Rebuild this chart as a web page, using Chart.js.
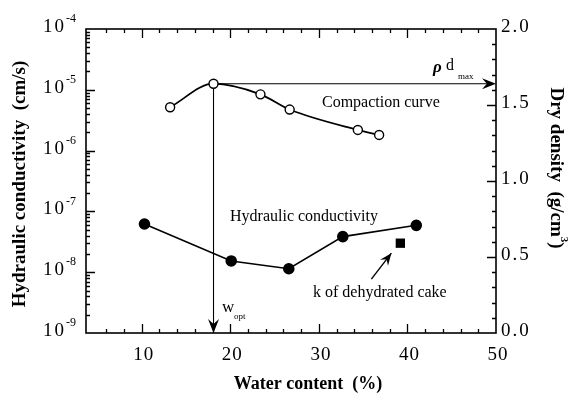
<!DOCTYPE html>
<html>
<head>
<meta charset="utf-8">
<script src="https://cdn.jsdelivr.net/npm/chart.js@4.4.1/dist/chart.umd.min.js"></script>
<style>
  html, body { margin: 0; padding: 0; background: #fff; }
  #wrap { width: 572px; height: 393px; }
</style>
</head>
<body>
<div id="wrap"><canvas id="chart" width="572" height="393"></canvas></div>
<script>
// Compaction test: dry density (g/cm3) vs water content (%)
const compactionWater = [13.2, 18.1, 23.4, 26.7, 34.4, 36.8];
const dryDensity = [1.485, 1.64, 1.57, 1.47, 1.336, 1.303];

// Permeability test: hydraulic conductivity (cm/s) vs water content (%)
const permWater = [10.3, 20.1, 26.6, 32.7, 41.0];
const conductivity = [6.2e-8, 1.53e-8, 1.14e-8, 3.85e-8, 5.9e-8];

// k of dehydrated cake
const cakeWater = [39.2];
const cakeConductivity = [3.0e-8];

// axis labels
const xTickValues = [10, 20, 30, 40, 50];
const leftExponents = [-9, -8, -7, -6, -5, -4];
const rightTickValues = [0, 0.5, 1.0, 1.5, 2.0];

const FONT = '"Liberation Serif", "Times New Roman", serif';

function toPoints(xs, ys) {
    return xs.map((x, i) => ({ x: x, y: ys[i] }));
}

function arrowHead(ctx, tipX, tipY, angle, len, half) {
    ctx.save();
    ctx.translate(tipX, tipY);
    ctx.rotate(angle);
    ctx.beginPath();
    ctx.moveTo(0, 0);
    ctx.lineTo(-len, -half);
    ctx.lineTo(-len * 0.65, 0);
    ctx.lineTo(-len, half);
    ctx.closePath();
    ctx.fill();
    ctx.restore();
}

function text(ctx, str, x, y, font, align) {
    ctx.font = font;
    ctx.textAlign = align || 'left';
    ctx.textBaseline = 'middle';
    ctx.fillText(str, x, y);
}

// optimum water content / max dry density, taken from the compaction data
const peak = dryDensity.indexOf(Math.max(...dryDensity));
const wOpt = compactionWater[peak];
const rhoMax = dryDensity[peak];

const framePlugin = {
    id: 'frameAxes',
    beforeDatasetsDraw(chart) {
        const { ctx, chartArea: a, scales } = chart;
        const px = scales.x.getPixelForValue(wOpt);
        const py = scales.yRight.getPixelForValue(rhoMax);
        ctx.save();
        ctx.strokeStyle = '#000';
        ctx.fillStyle = '#000';
        ctx.lineWidth = 1.1;
        // w_opt drop line
        ctx.beginPath();
        ctx.moveTo(px, py);
        ctx.lineTo(px, a.bottom - 8);
        ctx.stroke();
        arrowHead(ctx, px, a.bottom, Math.PI / 2, 14, 5.5);
        // rho_d max line to the right axis
        ctx.beginPath();
        ctx.moveTo(px, py);
        ctx.lineTo(a.right - 8, py);
        ctx.stroke();
        arrowHead(ctx, a.right, py, 0, 14, 5.5);
        ctx.restore();
    },
    afterDraw(chart) {
        const { ctx, chartArea: a, scales } = chart;
        const xs = scales.x, yl = scales.yLeft, yr = scales.yRight;
        ctx.save();
        ctx.strokeStyle = '#000';
        ctx.fillStyle = '#000';

        // frame
        ctx.lineWidth = 1.6;
        ctx.strokeRect(a.left, a.top, a.right - a.left, a.bottom - a.top);

        ctx.lineWidth = 1.3;
        ctx.beginPath();
        // bottom + top ticks (inward)
        for (let v = 6; v < 50; v += 2) {
            const p = Math.round(xs.getPixelForValue(v)) + 0.5;
            const len = v % 10 === 0 ? 9 : 4;
            ctx.moveTo(p, a.bottom); ctx.lineTo(p, a.bottom - len);
            ctx.moveTo(p, a.top); ctx.lineTo(p, a.top + len);
        }
        // left log ticks
        for (let e = -9; e < -4; e++) {
            for (let m = 1; m <= 9; m++) {
                if (e === -9 && m === 1) continue;
                const p = Math.round(yl.getPixelForValue(m * Math.pow(10, e))) + 0.5;
                const len = m === 1 ? 9 : 4;
                ctx.moveTo(a.left, p); ctx.lineTo(a.left + len, p);
            }
        }
        // right linear ticks
        for (let i = 1; i < 20; i++) {
            const p = Math.round(yr.getPixelForValue(i / 10)) + 0.5;
            const len = i % 5 === 0 ? 9 : 4;
            ctx.moveTo(a.right, p); ctx.lineTo(a.right - len, p);
        }
        ctx.stroke();

        // tick labels
        ctx.letterSpacing = '1px';
        xTickValues.forEach(v => {
            text(ctx, String(v), xs.getPixelForValue(v) + 2, 355, '19px ' + FONT, 'center');
        });
        leftExponents.forEach(e => {
            const p = yl.getPixelForValue(Math.pow(10, e));
            ctx.letterSpacing = '2px';
            text(ctx, '10', 66, p - 2, '19px ' + FONT, 'right');
            ctx.letterSpacing = '0px';
            text(ctx, String(e), 66, p - 10, '12px ' + FONT, 'left');
        });
        ctx.letterSpacing = '2px';
        rightTickValues.forEach(v => {
            text(ctx, v.toFixed(1), 501, yr.getPixelForValue(v) - 2, '19px ' + FONT, 'left');
        });
        ctx.letterSpacing = '0px';

        // axis titles
        text(ctx, 'Water content  (%)', 308, 384, 'bold 18px ' + FONT, 'center');

        ctx.save();
        ctx.translate(20, 184);
        ctx.rotate(-Math.PI / 2);
        text(ctx, 'Hydraulic conductivity  (cm/s)', 0, 0, 'bold 19px ' + FONT, 'center');
        ctx.restore();

        ctx.save();
        ctx.translate(556, 168);
        ctx.rotate(Math.PI / 2);
        ctx.font = 'bold 19px ' + FONT;
        const main = 'Dry density  (g/cm';
        const wMain = ctx.measureText(main).width;
        ctx.font = 'bold 11px ' + FONT;
        const wSup = ctx.measureText('3').width;
        ctx.font = 'bold 19px ' + FONT;
        const wClose = ctx.measureText(')').width;
        let x0 = -(wMain + wSup + wClose) / 2;
        text(ctx, main, x0, 0, 'bold 19px ' + FONT, 'left');
        text(ctx, '3', x0 + wMain, -8, 'bold 11px ' + FONT, 'left');
        text(ctx, ')', x0 + wMain + wSup, 0, 'bold 19px ' + FONT, 'left');
        ctx.restore();

        // in-plot annotations
        text(ctx, 'Compaction curve', 322, 103, '16px ' + FONT, 'left');
        text(ctx, 'Hydraulic conductivity', 230, 217, '16px ' + FONT, 'left');
        text(ctx, 'k of dehydrated cake', 313, 293, '16px ' + FONT, 'left');

        text(ctx, '\u03C1', 433, 68, 'italic bold 17px ' + FONT, 'left');
        text(ctx, 'd', 446, 66, '16px ' + FONT, 'left');
        text(ctx, 'max', 458, 77, '9px ' + FONT, 'left');

        text(ctx, 'w', 222, 308, '17px ' + FONT, 'left');
        text(ctx, 'opt', 234, 317, '9px ' + FONT, 'left');

        // pointer to the dehydrated cake marker
        const cx = xs.getPixelForValue(cakeWater[0]);
        const cy = yl.getPixelForValue(cakeConductivity[0]);
        const tipX = cx - 9, tipY = cy + 10;
        const tailX = cx - 29, tailY = cy + 36;
        ctx.lineWidth = 1.4;
        ctx.beginPath();
        ctx.moveTo(tailX, tailY);
        ctx.lineTo(tipX, tipY);
        ctx.stroke();
        arrowHead(ctx, tipX, tipY, Math.atan2(tipY - tailY, tipX - tailX), 12, 5);

        ctx.restore();
    }
};

new Chart(document.getElementById('chart'), {
    type: 'line',
    data: {
        datasets: [{
            label: 'Compaction curve',
            data: toPoints(compactionWater, dryDensity),
            yAxisID: 'yRight',
            borderColor: '#000',
            borderWidth: 1.7,
            cubicInterpolationMode: 'monotone',
            pointStyle: 'circle',
            pointRadius: 4.5,
            pointBorderWidth: 1.4,
            pointBackgroundColor: '#fff',
            pointBorderColor: '#000',
        }, {
            label: 'Hydraulic conductivity',
            data: toPoints(permWater, conductivity),
            yAxisID: 'yLeft',
            borderColor: '#000',
            borderWidth: 1.6,
            tension: 0,
            pointStyle: 'circle',
            pointRadius: 5,
            pointBackgroundColor: '#000',
            pointBorderColor: '#000',
        }, {
            label: 'k of dehydrated cake',
            data: toPoints(cakeWater, cakeConductivity),
            yAxisID: 'yLeft',
            showLine: false,
            pointStyle: 'rect',
            pointRadius: 6.6,
            pointBackgroundColor: '#000',
            pointBorderColor: '#000',
            pointBorderWidth: 0,
        }],
    },
    options: {
        responsive: false,
        animation: false,
        devicePixelRatio: 1,
        events: [],
        layout: { padding: { left: 86, right: 76, top: 29, bottom: 60 } },
        scales: {
            x: { type: 'linear', min: 3.7, max: 50, display: false },
            yLeft: { type: 'logarithmic', position: 'left', min: 1e-9, max: 1e-4, display: false },
            yRight: { type: 'linear', position: 'right', min: 0, max: 2, display: false },
        },
        plugins: {
            legend: { display: false },
            tooltip: { enabled: false },
        },
    },
    plugins: [framePlugin],
});
</script>
</body>
</html>
